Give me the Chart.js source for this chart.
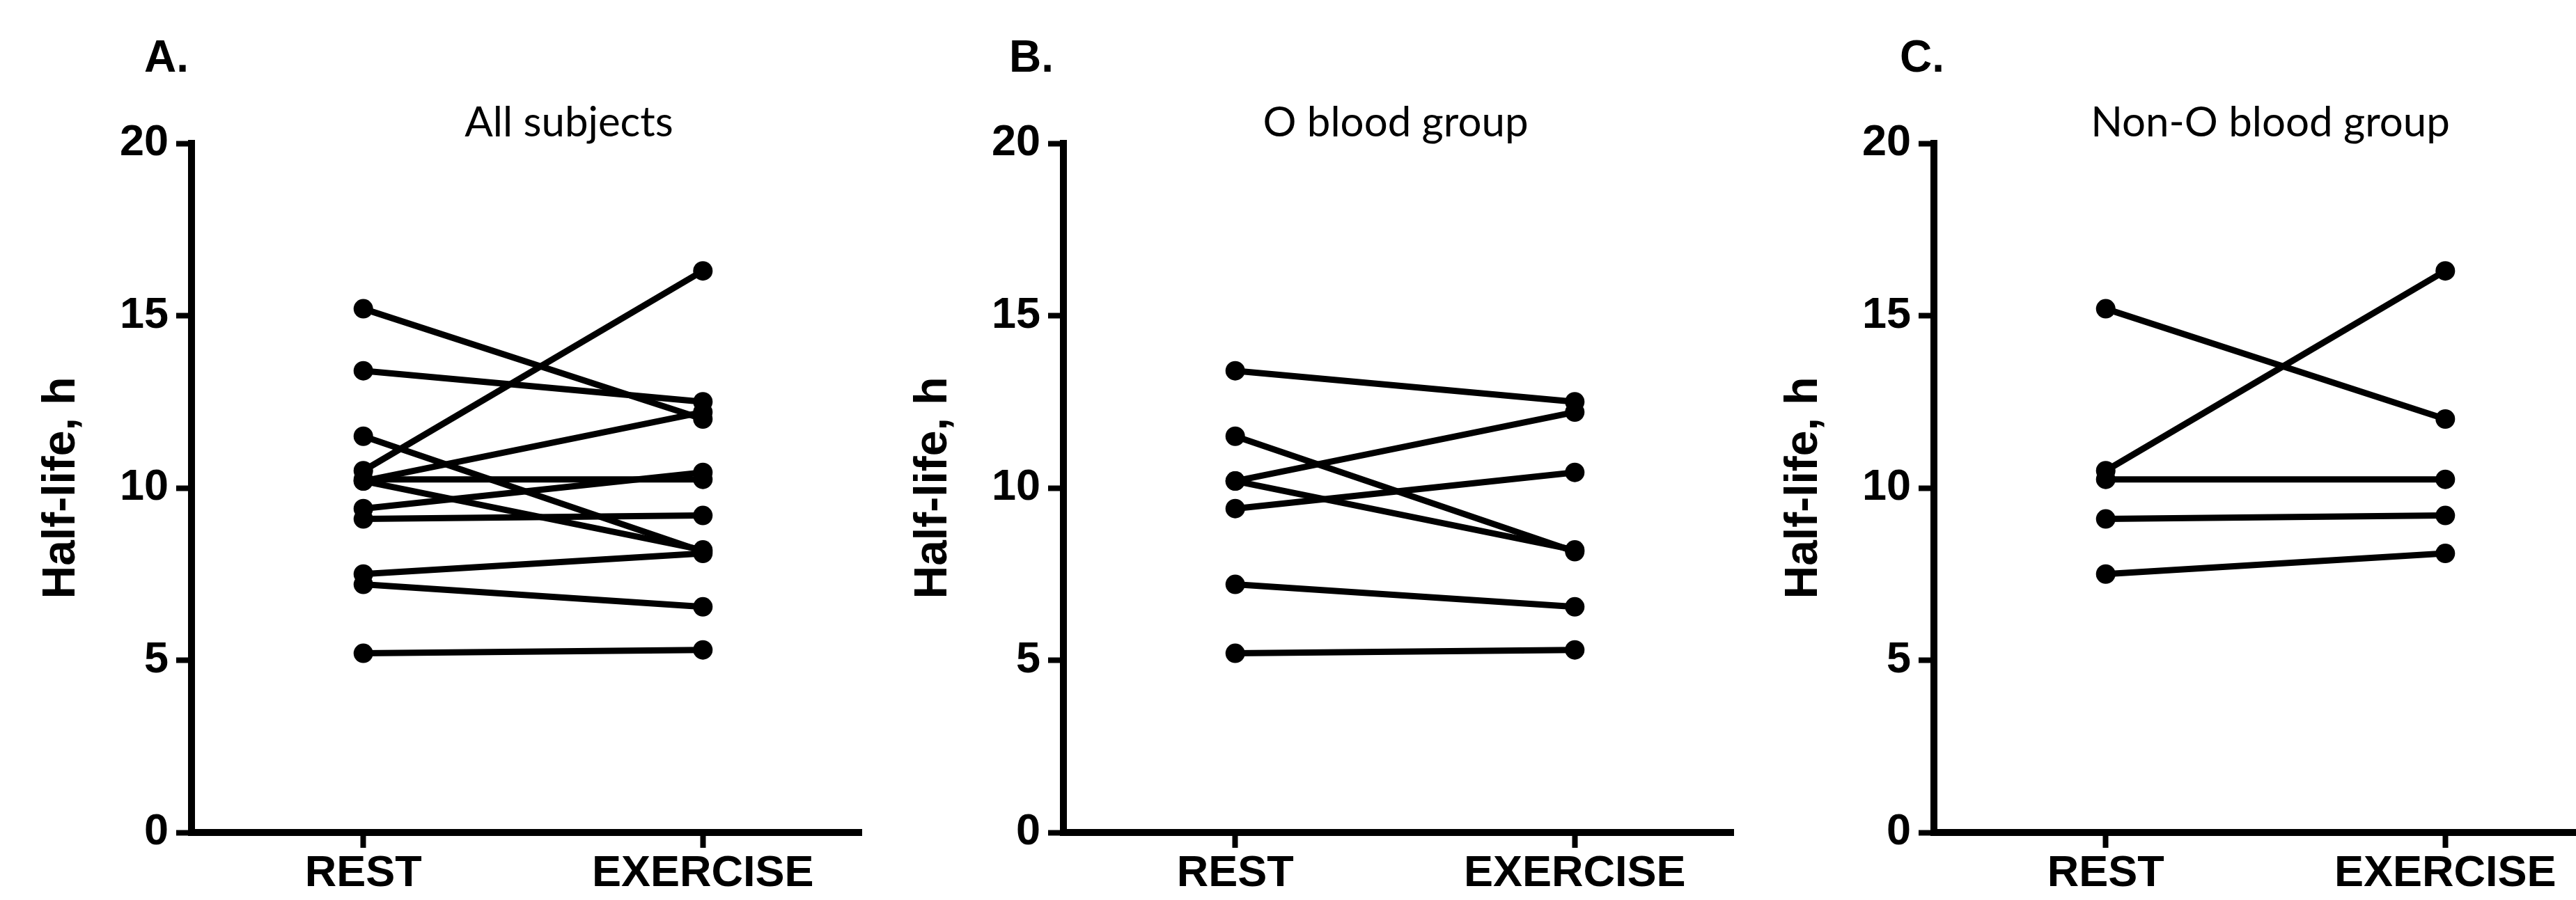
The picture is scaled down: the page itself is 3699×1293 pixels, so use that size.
<!DOCTYPE html>
<html>
<head>
<meta charset="utf-8">
<script src="https://cdn.jsdelivr.net/npm/chart.js@4.4.1/dist/chart.umd.min.js"></script>
<style>
  html, body { margin: 0; padding: 0; background: #fff; }
  #page { position: relative; width: 3699px; height: 1293px; overflow: hidden; background: #fff; }
  .panel { position: absolute; top: 0; width: 1251px; height: 1293px; }
  .letter { position: absolute; font: bold 64px "Liberation Sans", Arial, sans-serif; line-height: 64px; color: #000; }
  .title { position: absolute; font: 60px Lato, "Open Sans", sans-serif; line-height: 60px; color: #000;
           transform: translateX(-50%); white-space: nowrap; }
</style>
</head>
<body>
<div id="page">
  <canvas id="chartA" class="panel" width="1251" height="1293" style="left:0px"></canvas>
  <canvas id="chartB" class="panel" width="1251" height="1293" style="left:1252px"></canvas>
  <canvas id="chartC" class="panel" width="1251" height="1293" style="left:2502px"></canvas>

  <div class="letter" style="left:207px; top:49px">A.</div>
  <div class="letter" style="left:1449px; top:49px">B.</div>
  <div class="letter" style="left:2728px; top:49px">C.</div>

  <div class="title" style="left:817px; top:143px">All subjects</div>
  <div class="title" style="left:2004px; top:143px">O blood group</div>
  <div class="title" style="left:3260px; top:143px">Non-O blood group</div>
</div>
<script>
// x categories and y tick values
const categories = ["REST", "EXERCISE"];
const yTicks = [0, 5, 10, 15, 20];

// half-life (h), one entry per subject
const oRest     = [13.4, 11.5, 10.2, 10.2, 9.4, 7.2, 5.2];
const oExercise = [12.5, 8.15, 12.2, 8.2, 10.45, 6.55, 5.3];
const nonORest     = [15.2, 10.5, 10.25, 9.1, 7.5];
const nonOExercise = [12.0, 16.3, 10.25, 9.2, 8.1];
const allRest     = oRest.concat(nonORest);
const allExercise = oExercise.concat(nonOExercise);

const tickFont = { family: "'Liberation Sans', Arial, sans-serif", size: 63, weight: "bold" };

function subjectLines(rest, exercise) {
  return rest.map((r, i) => ({
    data: [{ x: 1, y: r }, { x: 2, y: exercise[i] }],
    borderColor: "#000",
    backgroundColor: "#000",
    borderWidth: 9,
    pointRadius: 14,
    pointHoverRadius: 14,
    pointBorderWidth: 0,
    pointBackgroundColor: "#000"
  }));
}

function drawPanel(id, rest, exercise) {
  new Chart(document.getElementById(id), {
    type: "line",
    data: { datasets: subjectLines(rest, exercise) },
    options: {
      responsive: false,
      animation: false,
      events: [],
      layout: { padding: { top: 206, right: 9, bottom: 0, left: 0 } },
      plugins: { legend: { display: false }, tooltip: { enabled: false } },
      scales: {
        x: {
          type: "linear",
          min: 0.494,
          max: 2.467,
          afterBuildTicks: s => { s.ticks = categories.map((c, i) => ({ value: i + 1 })); },
          afterFit: s => { s.height = 97; },
          ticks: {
            callback: v => categories[v - 1],
            font: tickFont, color: "#000", padding: 0,
            maxRotation: 0, autoSkip: false
          },
          grid: { drawOnChartArea: false, tickLength: 22, tickWidth: 8, tickColor: "#000" },
          border: { color: "#000", width: 10 }
        },
        y: {
          min: 0,
          max: 20,
          afterBuildTicks: s => { s.ticks = yTicks.map(v => ({ value: v })); },
          afterFit: s => { s.width = 275; },
          ticks: { font: tickFont, color: "#000", padding: 11 },
          grid: { drawOnChartArea: false, tickLength: 22, tickWidth: 8, tickColor: "#000" },
          border: { color: "#000", width: 10 },
          title: {
            display: true,
            text: "Half-life, h",
            color: "#000",
            font: { family: "'Liberation Sans', Arial, sans-serif", size: 66, weight: "bold" },
            padding: { top: 49, bottom: 0 }
          }
        }
      }
    }
  });
}

drawPanel("chartA", allRest, allExercise);
drawPanel("chartB", oRest, oExercise);
drawPanel("chartC", nonORest, nonOExercise);
</script>
</body>
</html>
